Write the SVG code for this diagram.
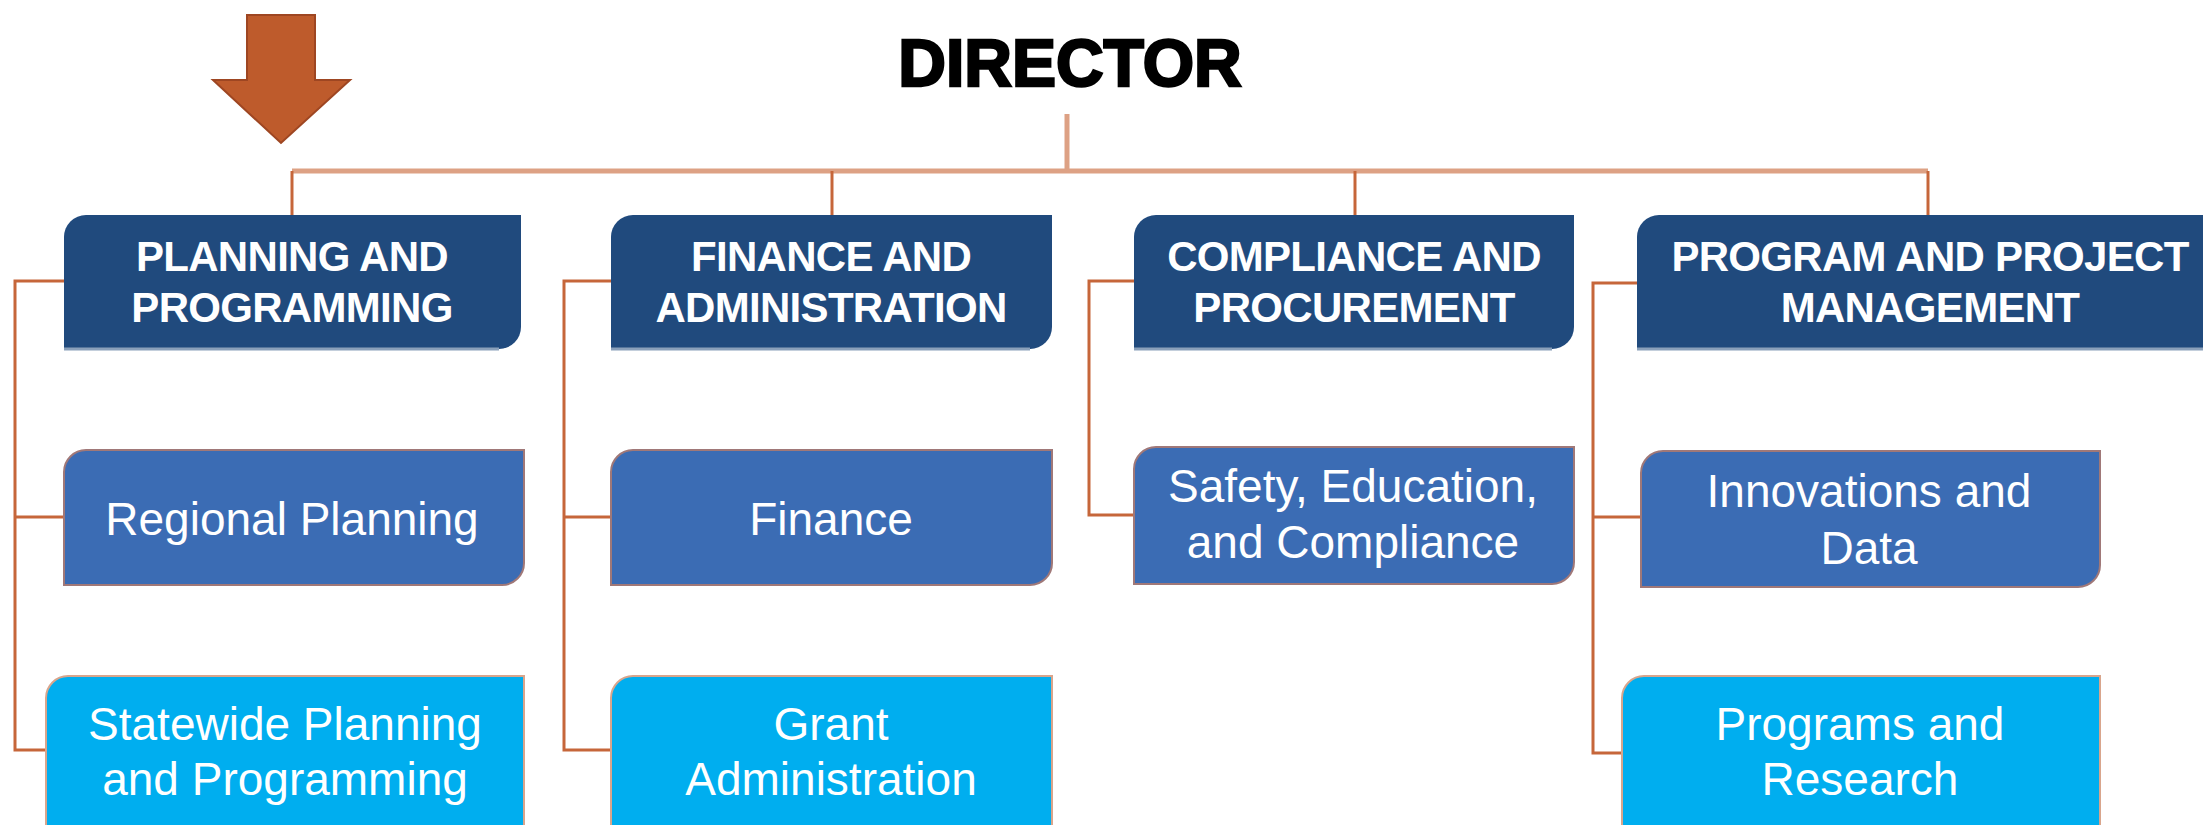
<svg xmlns="http://www.w3.org/2000/svg" width="2203" height="825" viewBox="0 0 2203 825">
<style>
.hdr{fill:#204A7D;stroke:#8AA0BA;stroke-width:0}
.sub{fill:#3B6CB4;stroke:#A07878;stroke-width:2}
.lt{fill:#00AEEF;stroke:#D9A58C;stroke-width:2}
.ht{font-family:"Liberation Sans",Arial,sans-serif;font-weight:bold;font-size:42px;fill:#FFFFFF;text-anchor:middle;letter-spacing:-0.7px}
.st{font-family:"Liberation Sans",Arial,sans-serif;font-size:46px;fill:#FFFFFF;text-anchor:middle}
.bus{stroke:#DDA184;stroke-width:5;fill:none}
.drop{stroke:#C6663A;stroke-width:3;fill:none}
</style>
<rect width="2203" height="825" fill="#FFFFFF"/>
<g id="arrow">
<polygon points="247,15 315,15 315,80 350,80 281,143 213,80 247,80" fill="#BE5B2C" stroke="#9E4622" stroke-width="2"/>
</g>
<g id="director">
<text x="1070" y="86" font-family="Liberation Sans,Arial,sans-serif" font-weight="bold" font-size="66" fill="#000000" stroke="#000000" stroke-width="2.5" text-anchor="middle">DIRECTOR</text>
</g>
<g id="connectors">
<line class="bus" x1="292" y1="171" x2="1928" y2="171"/>
<line class="bus" x1="1067" y1="114" x2="1067" y2="171"/>
<line class="drop" x1="292" y1="171" x2="292" y2="215"/>
<line class="drop" x1="832" y1="171" x2="832" y2="215"/>
<line class="drop" x1="1355" y1="171" x2="1355" y2="215"/>
<line class="drop" x1="1928" y1="171" x2="1928" y2="215"/>
<polyline class="drop" points="64,281 15,281 15,750 46,750"/>
<line class="drop" x1="15" y1="517" x2="64" y2="517"/>
<polyline class="drop" points="611,281 564,281 564,750 611,750"/>
<line class="drop" x1="564" y1="517" x2="611" y2="517"/>
<polyline class="drop" points="1134,281 1089,281 1089,515 1134,515"/>
<polyline class="drop" points="1637,283 1593,283 1593,753 1622,753"/>
<line class="drop" x1="1593" y1="517" x2="1641" y2="517"/>
</g>
<g id="planning-programming">
<path class="hdr" d="M86,215 H521 V327 A22,22 0 0 1 499,349 H64 V237 A22,22 0 0 1 86,215 Z"/>
<line x1="64" y1="349" x2="499" y2="349" stroke="#8AA0BA" stroke-width="3"/>
<text class="ht" x="292" y="271">PLANNING AND</text>
<text class="ht" x="292" y="322">PROGRAMMING</text>
</g>
<g id="finance-administration">
<path class="hdr" d="M633,215 H1052 V327 A22,22 0 0 1 1030,349 H611 V237 A22,22 0 0 1 633,215 Z"/>
<line x1="611" y1="349" x2="1030" y2="349" stroke="#8AA0BA" stroke-width="3"/>
<text class="ht" x="831" y="271">FINANCE AND</text>
<text class="ht" x="831" y="322">ADMINISTRATION</text>
</g>
<g id="compliance-procurement">
<path class="hdr" d="M1156,215 H1574 V327 A22,22 0 0 1 1552,349 H1134 V237 A22,22 0 0 1 1156,215 Z"/>
<line x1="1134" y1="349" x2="1552" y2="349" stroke="#8AA0BA" stroke-width="3"/>
<text class="ht" x="1354" y="271">COMPLIANCE AND</text>
<text class="ht" x="1354" y="322">PROCUREMENT</text>
</g>
<g id="program-project-management">
<path class="hdr" d="M1659,215 H2230 V349 H1637 V237 A22,22 0 0 1 1659,215 Z"/>
<line x1="1637" y1="349" x2="2203" y2="349" stroke="#8AA0BA" stroke-width="3"/>
<text class="ht" x="1930" y="271">PROGRAM AND PROJECT</text>
<text class="ht" x="1930" y="322">MANAGEMENT</text>
</g>
<g id="regional-planning">
<path class="sub" d="M86,450 H524 V563 A22,22 0 0 1 502,585 H64 V472 A22,22 0 0 1 86,450 Z"/>
<text class="st" x="292" y="535">Regional Planning</text>
</g>
<g id="statewide-planning">
<path class="lt" d="M68,676 H524 V840 H46 V698 A22,22 0 0 1 68,676 Z"/>
<text class="st" x="285" y="740">Statewide Planning</text>
<text class="st" x="285" y="795">and Programming</text>
</g>
<g id="finance">
<path class="sub" d="M633,450 H1052 V563 A22,22 0 0 1 1030,585 H611 V472 A22,22 0 0 1 633,450 Z"/>
<text class="st" x="831" y="535">Finance</text>
</g>
<g id="grant-administration">
<path class="lt" d="M633,676 H1052 V840 H611 V698 A22,22 0 0 1 633,676 Z"/>
<text class="st" x="831" y="740">Grant</text>
<text class="st" x="831" y="795">Administration</text>
</g>
<g id="safety-education-compliance">
<path class="sub" d="M1156,447 H1574 V562 A22,22 0 0 1 1552,584 H1134 V469 A22,22 0 0 1 1156,447 Z"/>
<text class="st" x="1353" y="502">Safety, Education,</text>
<text class="st" x="1353" y="558">and Compliance</text>
</g>
<g id="innovations-data">
<path class="sub" d="M1663,451 H2100 V565 A22,22 0 0 1 2078,587 H1641 V473 A22,22 0 0 1 1663,451 Z"/>
<text class="st" x="1869" y="507">Innovations and</text>
<text class="st" x="1869" y="564">Data</text>
</g>
<g id="programs-research">
<path class="lt" d="M1644,676 H2100 V840 H1622 V698 A22,22 0 0 1 1644,676 Z"/>
<text class="st" x="1860" y="740">Programs and</text>
<text class="st" x="1860" y="795">Research</text>
</g>
</svg>
